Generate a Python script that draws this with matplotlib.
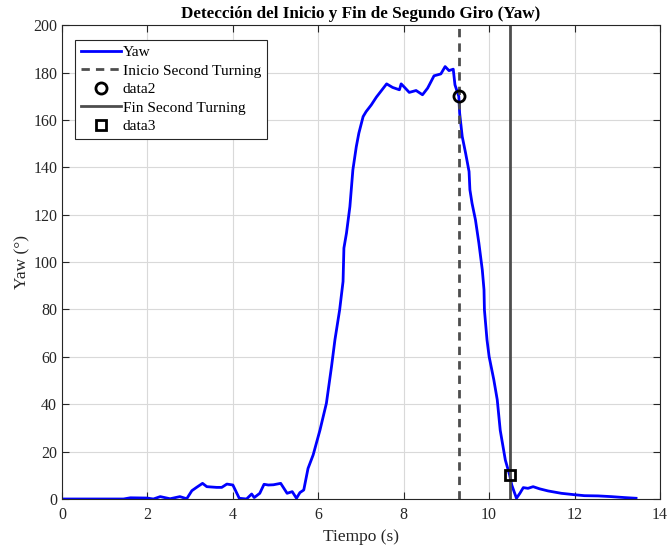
import matplotlib
matplotlib.use('Agg')
import matplotlib.pyplot as plt
import numpy as np

plt.rcParams['font.family'] = ['Liberation Serif', 'DejaVu Serif']

# yaw angle trace (s, deg)
t = [0.0, 1.44, 1.6, 1.99, 2.14, 2.3, 2.53, 2.76, 2.92, 3.04, 3.15, 3.29, 3.39, 3.62,
     3.74, 3.86, 4.0, 4.15, 4.32, 4.44, 4.5, 4.63, 4.73, 4.83, 4.95, 5.12, 5.27, 5.39,
     5.49, 5.57, 5.66, 5.76, 5.88, 6.04, 6.19, 6.31, 6.39, 6.5, 6.58, 6.6, 6.66, 6.74,
     6.81, 6.89, 6.95, 7.05, 7.12, 7.24, 7.36, 7.6, 7.74, 7.9, 7.94, 8.0, 8.13, 8.29,
     8.44, 8.56, 8.71, 8.87, 8.97, 9.06, 9.16, 9.2, 9.29, 9.31, 9.37, 9.45, 9.53, 9.55,
     9.6, 9.68, 9.76, 9.84, 9.88, 9.89, 9.95, 10.0, 10.11, 10.19, 10.26, 10.38, 10.48,
     10.53, 10.64, 10.72, 10.8, 10.91, 11.03, 11.18, 11.38, 11.69, 12.0, 12.23, 12.55,
     12.86, 13.17, 13.44]
yaw = [0.0, 0.0, 0.5, 0.4, 0.0, 1.0, 0.1, 1.0, 0.1, 3.5, 4.9, 6.6, 5.2, 4.9,
       4.9, 6.3, 5.9, 0.3, 0.0, 2.1, 0.6, 2.4, 6.2, 5.9, 6.0, 6.6, 2.4, 3.1,
       0.3, 2.7, 3.8, 12.9, 18.6, 29.1, 40.4, 55.9, 67.2, 79.8, 91.8, 105.9, 112.2, 123.4,
       138.9, 148.7, 154.4, 161.4, 163.5, 166.3, 169.6, 175.2, 173.7, 172.7, 175.2, 174.1, 171.6, 172.4,
       170.6, 173.4, 178.6, 179.4, 182.5, 180.8, 181.4, 174.8, 169.9, 162.8, 153.0, 145.9, 138.2, 130.5,
       124.8, 117.8, 108.0, 96.7, 88.3, 79.8, 67.2, 60.1, 50.3, 41.9, 29.0, 16.4, 10.1,
       5.9, 0.3, 2.4, 4.8, 4.5, 5.2, 4.3, 3.4, 2.4, 1.8, 1.4, 1.3,
       1.0, 0.6, 0.3]

t_ini, yaw_ini = 9.3, 170.0
t_fin, yaw_fin = 10.48, 10.0

fig = plt.figure(figsize=(6.69, 5.46), dpi=100)
ax = fig.add_axes([0.0927, 0.0861, 0.8938, 0.8679])

ax.plot(t, yaw, color='blue', lw=2, label='Yaw')
ax.axvline(t_ini, color='0.3', ls=(0, (3, 2.2)), lw=2, label='Inicio Second Turning')
ax.plot(t_ini, yaw_ini, 'o', ms=8, mfc='none', mec='black', mew=2, label='data2')
ax.axvline(t_fin, color='0.3', lw=2, label='Fin Second Turning')
ax.plot(t_fin, yaw_fin, 's', ms=6.5, mfc='none', mec='black', mew=2, label='data3')

ax.set_xlim(0, 14)
ax.set_ylim(0, 200)
ax.set_xticks(np.arange(0, 15, 2))
ax.set_yticks(np.arange(0, 201, 20))
ax.grid(True, color='0.85', lw=0.8)
ax.set_axisbelow(True)
for s in ax.spines.values():
    s.set_color('0.15')
    s.set_linewidth(0.8)
ax.tick_params(direction='in', top=True, right=True, length=5, width=0.8,
               colors='0.15', labelsize=11.5)
ax.tick_params(axis='x', pad=6)

ax.set_xlabel('Tiempo (s)', fontsize=12.5, color='0.15', labelpad=4)
ax.set_ylabel('Yaw (°)', fontsize=12.5, color='0.15', labelpad=2)
ax.set_title('Detección del Inicio y Fin de Segundo Giro (Yaw)', fontsize=12.3,
             fontweight='bold', pad=5)

leg = ax.legend(loc='upper left', bbox_to_anchor=(0.022, 0.968), fontsize=11.1,
                fancybox=False, framealpha=1, edgecolor='0.15', handlelength=2.6,
                handletextpad=0.15, borderpad=0.35, labelspacing=0.3, borderaxespad=0)
leg.get_frame().set_linewidth(0.8)

fig.savefig('out.png', dpi=100)
